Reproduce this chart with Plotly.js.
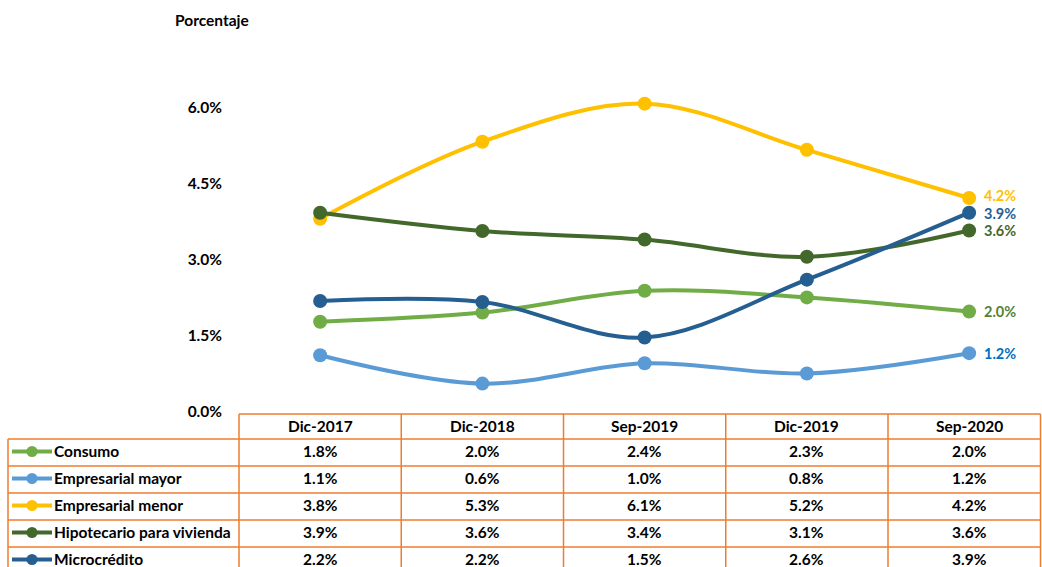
<!DOCTYPE html>
<html>
<head>
<meta charset="utf-8">
<script src="https://cdn.plot.ly/plotly-3.0.1.min.js"></script>
<style>html,body{margin:0;padding:0;background:#fff;}#chart{width:1042px;height:567px;}</style>
</head>
<body>
<div id="chart"></div>
<script>
const categories = ['Dic-2017', 'Dic-2018', 'Sep-2019', 'Dic-2019', 'Sep-2020'];
const seriesNames = ['Consumo', 'Empresarial mayor', 'Empresarial menor', 'Hipotecario para vivienda', 'Microcrédito'];
const consumo = [1.78, 1.96, 2.39, 2.26, 1.98];
const empresarialMayor = [1.12, 0.56, 0.96, 0.76, 1.16];
const empresarialMenor = [3.81, 5.33, 6.08, 5.17, 4.22];
const hipotecario = [3.93, 3.57, 3.40, 3.06, 3.58];
const microcredito = [2.19, 2.17, 1.47, 2.61, 3.93];
const yTicks = [0, 1.5, 3, 4.5, 6];

const seriesValues = [consumo, empresarialMayor, empresarialMenor, hipotecario, microcredito];
const lineColors = ['#70AD47', '#5B9BD5', '#FFC000', '#43682B', '#255E91'];
const labelColors = ['#548235', '#0070C0', '#FFC000', '#43682B', '#255E91'];
const labelYShift = [0, 0, 2, 0, -1];

const W = 1042, H = 567;
const L = 239, T = 57, B = 155;
const plotW = W - L, plotH = H - T - B;
const px = p => (p - L) / plotW;          // pixel x -> paper
const py = p => (H - B - p) / plotH;      // pixel y -> paper
const FONT = 'Lato, "Open Sans", sans-serif';
const FS = 15.5;
const ORANGE = '#ED7D31';

const traces = seriesValues.map((vals, i) => ({
  type: 'scatter', mode: 'lines+markers',
  x: categories, y: vals, name: seriesNames[i],
  line: {color: lineColors[i], width: 4, shape: 'spline', smoothing: 1},
  marker: {color: lineColors[i], size: 14},
  showlegend: false, cliponaxis: false, hoverinfo: 'skip'
}));

const shapes = [];
const annotations = [];
const line = (x0, y0, x1, y1, color, w) => shapes.push({type: 'line', xref: 'paper', yref: 'paper',
  x0: px(x0), y0: py(y0), x1: px(x1), y1: py(y1), line: {color: color || ORANGE, width: w || 1.5}, layer: 'above'});

// Table grid
const rowTop = 414, headBot = 439, rowH = 27, tableBottom = 575;
const colX = [239, 401.25, 563.5, 725.75, 888, 1040.5];
line(239, rowTop, 1040.5, rowTop);
colX.forEach(x => line(x, rowTop, x, tableBottom));
line(8, headBot, 8, tableBottom);
for (let r = 0; r <= seriesNames.length; r++) {
  const y = headBot + r * rowH;
  line(8, y, 1040.5, y);
}

// Header text
categories.forEach((c, j) => {
  annotations.push({xref: 'x', yref: 'paper', x: j, y: py(425.5), text: '<b>' + c + '</b>',
    showarrow: false, font: {family: FONT, size: FS, color: '#000'}, xanchor: 'center', yanchor: 'middle'});
});

// Rows
seriesNames.forEach((name, i) => {
  const yc = headBot + i * rowH + 12;
  const ylegend = headBot + i * rowH + 12.5;
  // legend key
  line(12, ylegend, 52, ylegend, lineColors[i], 4);
  shapes.push({type: 'circle', xref: 'paper', yref: 'paper', xsizemode: 'pixel', ysizemode: 'pixel',
    xanchor: px(32), yanchor: py(ylegend), x0: -5.5, x1: 5.5, y0: -5.5, y1: 5.5,
    fillcolor: lineColors[i], line: {width: 0}, layer: 'above'});
  annotations.push({xref: 'paper', yref: 'paper', x: px(52), y: py(yc), text: '<b>' + name + '</b>',
    showarrow: false, font: {family: FONT, size: FS, color: '#000'}, xanchor: 'left', yanchor: 'middle'});
  seriesValues[i].forEach((v, j) => {
    annotations.push({xref: 'x', yref: 'paper', x: j, y: py(yc), text: '<b>' + v.toFixed(1) + '%</b>',
      showarrow: false, font: {family: FONT, size: FS, color: '#000'}, xanchor: 'center', yanchor: 'middle'});
  });
  // end label
  const last = vals => vals[vals.length - 1];
  annotations.push({xref: 'x', yref: 'y', x: categories.length - 1, y: last(seriesValues[i]),
    text: '<b>' + last(seriesValues[i]).toFixed(1) + '%</b>', showarrow: false, xanchor: 'left', yanchor: 'middle',
    xshift: 14, yshift: labelYShift[i], borderpad: 0, font: {family: FONT, size: 14.5, color: labelColors[i]}});
});

// Axis title
annotations.push({xref: 'paper', yref: 'paper', x: px(173), y: py(20), text: '<b>Porcentaje</b>',
  showarrow: false, xanchor: 'left', yanchor: 'middle', font: {family: FONT, size: FS, color: '#000'}});

const layout = {
  width: W, height: H,
  margin: {l: L, r: 0, t: T, b: B, pad: 0},
  paper_bgcolor: '#fff', plot_bgcolor: '#fff',
  showlegend: false,
  xaxis: {type: 'category', range: [-0.5, (W - L) / 162.25 - 0.5], showgrid: false, zeroline: false,
    showline: false, showticklabels: false, ticks: '', fixedrange: true},
  yaxis: {range: [0, 7], tickvals: yTicks, ticktext: yTicks.map(v => v.toFixed(1) + '%'),
    showgrid: false, zeroline: false, showline: false, ticks: '', ticklabelstandoff: 16,
    tickfont: {family: FONT, size: FS, color: '#000', weight: 'bold'}, fixedrange: true},
  shapes: shapes,
  annotations: annotations,
  font: {family: FONT}
};

Plotly.newPlot('chart', traces, layout, {displayModeBar: false, staticPlot: true});
</script>
</body>
</html>
